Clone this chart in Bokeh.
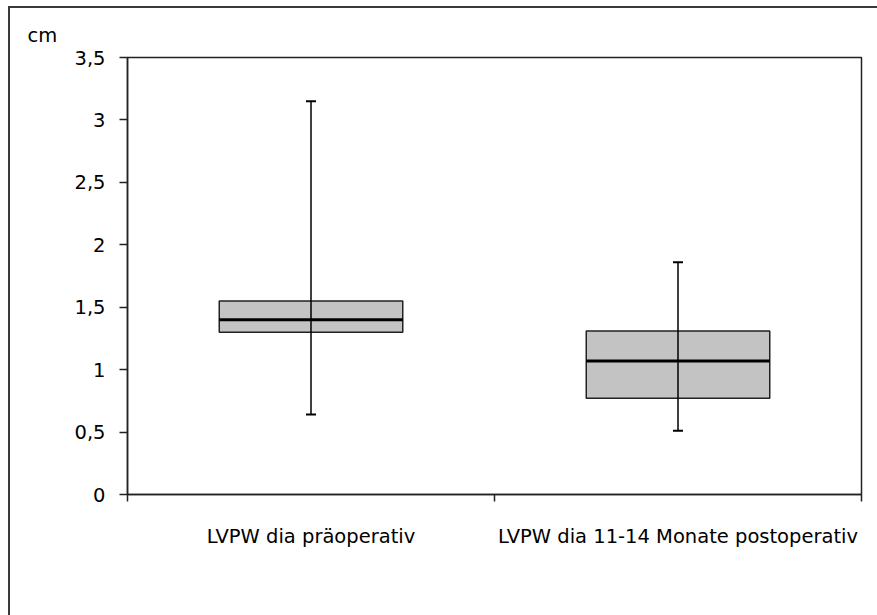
from bokeh.plotting import figure
from bokeh.models import (Range1d, FixedTicker, CustomJSTickFormatter, ColumnDataSource)
from bokeh.embed import file_html
from bokeh.resources import INLINE

# LVPW (diastolic) in cm: pre-operative vs. 11-14 months post-operative
categories = ["LVPW dia präoperativ", "LVPW dia 11-14 Monate postoperativ"]
whisker_low = [0.64, 0.51]
quartile_1 = [1.30, 0.77]
median = [1.40, 1.07]
quartile_3 = [1.55, 1.31]
whisker_high = [3.15, 1.86]

y_ticks = [0, 0.5, 1, 1.5, 2, 2.5, 3, 3.5]
y_unit = "cm"

FONT = "DejaVu Sans"
FS = "19.5px"

xs = [i + 0.5 for i in range(len(categories))]
src = ColumnDataSource(dict(x=xs, lo=whisker_low, q1=quartile_1, med=median,
                            q3=quartile_3, hi=whisker_high))

p = figure(width=870, height=610, output_backend="svg", toolbar_location=None,
           x_range=Range1d(0, len(categories)), y_range=Range1d(0, 3.5),
           min_border_left=117, min_border_right=19, min_border_top=49,
           min_border_bottom=124, title=y_unit)

# chart-area frame: the right and bottom edges run past the page
p.styles = {"border-left": "2px solid #3a3a3a", "border-top": "2px solid #3a3a3a",
            "margin-left": "8px", "margin-top": "6px"}

p.title.text_font = FONT
p.title.text_font_size = FS
p.title.text_font_style = "normal"
p.title.align = "left"
p.title.offset = -100
p.title.standoff = 21
p.title.text_color = "black"

p.grid.visible = False
p.background_fill_color = "white"
p.border_fill_color = "white"
p.outline_line_color = "#222222"
p.outline_line_width = 1.5

# boxes
p.vbar(x="x", width=0.5, bottom="q1", top="q3", source=src,
       fill_color="#c3c3c3", line_color="#222222", line_width=1.5)
# median
p.rect(x="x", y="med", width=0.5, height=3, height_units="screen", source=src,
       fill_color="black", line_color=None)
# whiskers through the box
p.segment(x0="x", x1="x", y0="lo", y1="hi", source=src, line_color="black", line_width=1.5)
p.dash(x="x", y="lo", size=10, source=src, line_color="black", line_width=2)
p.dash(x="x", y="hi", size=10, source=src, line_color="black", line_width=2)

# y axis
ya = p.yaxis[0]
ya.ticker = FixedTicker(ticks=y_ticks, minor_ticks=[])
ya.formatter = CustomJSTickFormatter(code="return tick.toString().replace('.', ',');")
ya.axis_line_color = "#222222"
ya.axis_line_width = 1.5
ya.major_tick_out = 8
ya.major_tick_in = 0
ya.major_tick_line_color = "#222222"
ya.major_tick_line_width = 1.5
ya.major_label_standoff = 14
ya.major_label_text_font = FONT
ya.major_label_text_font_size = FS
ya.major_label_text_color = "black"

# x axis: labels under each group, ticks on group boundaries
xa = p.xaxis[0]
xa.ticker = FixedTicker(ticks=xs, minor_ticks=list(range(len(categories) + 1)))
xa.major_label_overrides = {x: c for x, c in zip(xs, categories)}
xa.axis_line_color = "#222222"
xa.axis_line_width = 1.5
xa.major_tick_out = 0
xa.major_tick_in = 0
xa.minor_tick_out = 7
xa.minor_tick_in = 0
xa.minor_tick_line_color = "#222222"
xa.minor_tick_line_width = 1.5
xa.major_label_standoff = 23
xa.major_label_text_font = FONT
xa.major_label_text_font_size = FS
xa.major_label_text_color = "black"

open("out.html", "w").write(file_html(p, INLINE))
